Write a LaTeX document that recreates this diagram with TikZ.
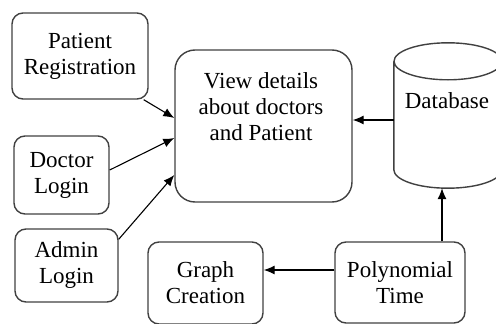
\documentclass[tikz,border=0pt]{standalone}
\usepackage{fontspec}
\setmainfont{Liberation Serif}
\usetikzlibrary{arrows.meta}
\begin{document}
\begin{tikzpicture}[x=1pt,y=-1pt,
every node/.style={align=center,font=\fontsize{23}{26}\selectfont},
box/.style={draw=black!75,line width=1.4pt,rounded corners=11pt,inner sep=0pt},
arr/.style={-{Latex[length=11pt,width=9pt]},line width=1.1pt}
]
\useasboundingbox (0,0) rectangle (496,324);
\node[box,minimum width=136pt,minimum height=86pt] (reg) at (80,56) {Patient\\Registration};
\node[box,minimum width=95pt,minimum height=78pt] (doc) at (61.5,175) {Doctor\\Login};
\node[box,minimum width=103pt,minimum height=73pt] (adm) at (66.5,265.5) {Admin\\Login};
\node[box,rounded corners=20pt,minimum width=177pt,minimum height=152pt] (view) at (263.5,126) {};
\node (viewtext) at (261,107) {View details\\about doctors\\and Patient};
\node[minimum width=108pt,minimum height=145pt,inner sep=0pt] (db) at (448,115.5) {};
\draw[draw=black!75,line width=1.4pt] ([yshift=-18.5pt]db.north) ellipse [x radius=54pt,y radius=18.5pt]
  ([yshift=-18.5pt]db.north west) -- ([yshift=18.5pt]db.south west)
  arc [start angle=180,end angle=360,x radius=54pt,y radius=18.5pt]
  -- ([yshift=-18.5pt]db.north east);
\node (dbtext) at (447,101) {Database};
\node[box,minimum width=115pt,minimum height=82pt] (graph) at (205.5,283) {Graph\\Creation};
\node[box,minimum width=130pt,minimum height=81pt] (poly) at (400,282.5) {Polynomial\\Time};
\coordinate (dbout) at ([yshift=-4.5pt]db.west);
\coordinate (polyout) at ([yshift=12.5pt]poly.west);
\draw[arr] ([xshift=-5pt]reg.south east) -- ([yshift=8pt]view.west);
\draw[arr] ([yshift=5pt]doc.east) -- ([yshift=-12pt]view.west);
\draw[arr] ([yshift=-11pt]adm.north east) -- ([yshift=-49pt]view.west);
\draw[arr] (dbout) -- (view.east |- dbout);
\draw[arr] ([xshift=42pt]poly.north) -- ([xshift=42pt]poly.north |- db.south);
\draw[arr] (polyout) -- (graph.east |- polyout);
\end{tikzpicture}
\end{document}
